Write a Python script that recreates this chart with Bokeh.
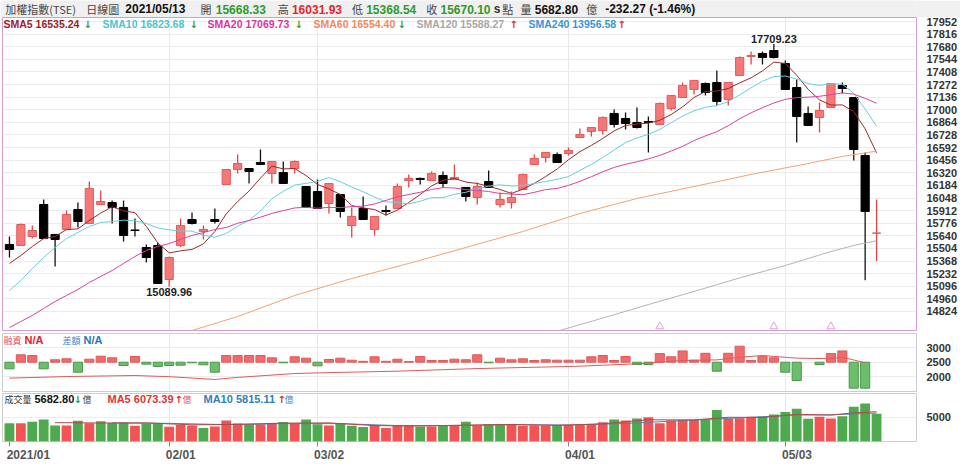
from bokeh.plotting import figure
from bokeh.layouts import column
from bokeh.models import ColumnDataSource, Range1d, FixedTicker, Label, LinearAxis
from bokeh.embed import file_html
from bokeh.resources import INLINE

# ---------------- data ----------------
tick_idx = [0, 14, 27, 49, 68]
tick_labels = ["2021/01", "02/01", "03/02", "04/01", "05/03"]

opens = [15547, 15536, 15633, 15978, 15655, 15709, 15924, 15773, 15978, 15999,
         15946, 15703, 15514, 15536, 15169, 15536, 15816, 15687, 15816, 16194,
         16356, 16366, 16431, 16313, 16323, 16366, 16172, 16118, 15989, 16086,
         15752, 15935, 15709, 15913, 15935, 16237, 16259, 16237, 16291, 16248,
         16162, 16054, 16226, 15978, 15999, 16140, 16410, 16485, 16517, 16528,
         16701, 16766, 16776, 16960, 16906, 16863, 16873, 16841, 17014, 17132,
         17219, 17283, 17294, 17111, 17370, 17574, 17607, 17639, 17499, 17240,
         16960, 16917, 17024, 17262, 17132, 16507, 15668.33]
highs = [15633, 15773, 15752, 16032, 15655, 15913, 15999, 16226, 16129, 16021,
         16021, 15827, 15547, 15568, 15417, 15827, 15892, 15752, 15935, 16356,
         16517, 16366, 16571, 16442, 16442, 16453, 16172, 16248, 16205, 16086,
         15946, 16064, 15849, 15967, 16205, 16302, 16270, 16334, 16334, 16410,
         16162, 16215, 16345, 16108, 16118, 16313, 16517, 16539, 16539, 16593,
         16798, 16809, 16927, 17003, 16970, 17024, 16927, 17078, 17154, 17294,
         17316, 17294, 17423, 17294, 17574, 17628, 17628, 17709.23, 17531, 17326,
         17035, 17078, 17283, 17294, 17132, 16539, 16031.93]
lows = [15406, 15536, 15611, 15611, 15309, 15709, 15730, 15773, 15978, 15773,
        15579, 15633, 15352, 15126, 15089.96, 15520, 15762, 15601, 15773, 16194,
        16313, 16205, 16410, 16205, 16205, 16313, 15946, 15935, 15881, 15838,
        15622, 15816, 15644, 15860, 15935, 16162, 16194, 16237, 16162, 16248,
        16010, 15978, 16162, 15946, 15935, 16140, 16410, 16431, 16431, 16507,
        16701, 16712, 16733, 16809, 16787, 16798, 16539, 16841, 16992, 17132,
        17165, 17154, 17046, 17046, 17370, 17488, 17488, 17553, 17219, 16647,
        16830, 16755, 17024, 17175, 16453, 15159.86, 15368.54]
closes = [15493, 15762, 15698, 15611, 15601, 15870, 15795, 16151, 16010, 15946,
          15644, 15698, 15406, 15126, 15406, 15752, 15773, 15709, 15795, 16356,
          16420, 16334, 16410, 16442, 16205, 16442, 15946, 15935, 16205, 15903,
          15849, 15816, 15849, 15903, 16172, 16259, 16248, 16313, 16205, 16270,
          16064, 16172, 16162, 16032, 16054, 16302, 16474, 16539, 16431, 16561,
          16733, 16809, 16917, 16841, 16852, 16809, 16863, 17068, 17154, 17262,
          17316, 17186, 17089, 17294, 17564, 17585, 17564, 17564, 17219, 16927,
          16830, 16992, 17283, 17229, 16571, 15902.37, 15670.10]

sma5 = [15342, 15428, 15525, 15611, 15633, 15708, 15715, 15806, 15885, 15954,
        15909, 15890, 15741, 15564, 15456, 15478, 15493, 15553, 15687, 15877,
        16010, 16123, 16263, 16392, 16362, 16366, 16289, 16194, 16146, 16086,
        15967, 15941, 15924, 15864, 15918, 16000, 16086, 16179, 16239, 16259,
        16220, 16205, 16174, 16140, 16097, 16144, 16205, 16280, 16360, 16461,
        16548, 16615, 16690, 16772, 16830, 16845, 16856, 16886, 16949, 17031,
        17132, 17197, 17201, 17229, 17290, 17344, 17419, 17514, 17499, 17372,
        17221, 17106, 17050, 17052, 16981, 16794, 16535]
sma10 = [15051, 15158, 15288, 15407, 15514, 15611, 15676, 15741, 15784, 15794,
         15809, 15802, 15773, 15725, 15705, 15693, 15691, 15647, 15625, 15666,
         15744, 15808, 15908, 16040, 16119, 16188, 16206, 16228, 16269, 16224,
         16167, 16115, 16059, 16005, 16002, 15984, 16014, 16052, 16052, 16088,
         16110, 16145, 16177, 16190, 16178, 16182, 16205, 16227, 16250, 16279,
         16346, 16410, 16485, 16566, 16646, 16696, 16735, 16788, 16860, 16931,
         16989, 17027, 17044, 17089, 17160, 17238, 17308, 17358, 17364, 17331,
         17282, 17263, 17282, 17276, 17176, 17007, 16824]
sma20 = [14651, 14716, 14781, 14857, 14932, 14997, 15061, 15137, 15202, 15266,
         15342, 15417, 15482, 15525, 15557, 15601, 15644, 15676, 15708, 15730,
         15776, 15805, 15841, 15882, 15912, 15941, 15948, 15938, 15947, 15945,
         15955, 15961, 15984, 16022, 16061, 16086, 16110, 16140, 16160, 16156,
         16138, 16130, 16118, 16097, 16090, 16083, 16109, 16139, 16151, 16184,
         16228, 16277, 16331, 16378, 16412, 16439, 16470, 16508, 16555, 16605,
         16667, 16718, 16764, 16828, 16903, 16967, 17022, 17073, 17112, 17131,
         17136, 17145, 17163, 17182, 17168, 17123, 17070]
sma60_idx = [15, 16, 20, 25, 30, 35, 40, 45, 50, 55, 60, 65, 70, 73, 76]
sma60 = [14576, 14619, 14770, 14997, 15180, 15342, 15514, 15687, 15881, 16043,
         16172, 16302, 16420, 16496, 16554]
sma120_idx = [47, 52, 56, 60, 64, 68, 72, 74, 76]
sma120 = [14576, 14753, 14899, 15040, 15186, 15320, 15471, 15536, 15588]

margin_chg = [-228, 255, 231, -228, 83, 117, -345, 103, 207, 152,
              -114, 197, -69, -148, -114, -103, -20, -90, -345, 231,
              231, 231, 231, 152, -20, 186, 138, -125, 93, 138,
              69, 30, 186, 30, 103, 20, 197, 58, 58, 103,
              83, 255, -20, 138, 83, 117, 58, 83, 69, 69,
              69, 186, 231, 58, 197, -80, -80, 296, 186, 388,
              69, 307, -310, 307, 552, 58, 207, 152, -345, -631,
              0, -80, 296, 388, -897, -897, 0]
margin_bal_idx = [0, 5, 11, 14, 18, 20, 25, 28, 34, 41, 50, 55, 59, 62, 64, 66, 69, 72, 73, 75]
margin_bal = [1950, 2005, 2040, 2000, 1905, 1975, 2110, 2140, 2190, 2280,
              2362, 2445, 2560, 2580, 2670, 2730, 2640, 2620, 2672, 2480]

volume = [3724, 3724, 4057, 4508, 3273, 3273, 4253, 3724, 4116, 3783,
          3861, 3195, 3665, 3665, 2999, 3391, 3273, 2744, 3077, 4312,
          3665, 3528, 3528, 3783, 3979, 3665, 4508, 3528, 3273, 3665,
          3195, 2940, 3391, 2744, 3273, 3273, 2999, 3077, 3195, 3273,
          4057, 3332, 3528, 3469, 3528, 3195, 3273, 3273, 3391, 3391,
          3391, 3469, 3920, 4508, 4312, 4704, 4959, 3724, 4312, 4449,
          4449, 4449, 6409, 4645, 4763, 5037, 5096, 5488, 6017, 6664,
          4645, 5037, 4704, 5155, 7115, 7781, 5682.80]
vol_ma5_idx = [4, 8, 12, 16, 20, 24, 28, 32, 36, 40, 44, 48, 52, 56, 60, 63, 66, 69, 72, 74, 76]
vol_ma5 = [3850, 3780, 3800, 3400, 3500, 3750, 3800, 3250, 3150, 3350, 3480,
           3300, 3600, 4440, 4400, 4950, 4900, 5550, 5400, 5850, 6073.39]
vol_ma10_idx = [9, 14, 19, 24, 29, 34, 39, 44, 49, 54, 59, 64, 69, 72, 76]
vol_ma10 = [3800, 3700, 3450, 3650, 3650, 3250, 3250, 3420, 3370, 3680, 4270,
            4820, 5400, 5440, 5815.11]

marker_idx = [57, 67, 72]

# ---------------- style ----------------
NUM = "Liberation Sans"
CJK = "Noto Sans CJK TC"
ARW = "DejaVu Sans"
RED = "#e02828"
GREEN = "#2f9a2f"
UP_FILL = "#f47878"
UP_LINE = "#e45a5a"

N = len(closes)
idx = list(range(N))
xr = Range1d(-0.61, 79.5)


def base(height, yr, top, bottom, xloc=None, outline="#cccccc"):
    f = figure(width=960, height=height, x_range=xr, y_range=yr,
               output_backend="svg", toolbar_location=None,
               x_axis_location=xloc, y_axis_location="right",
               min_border_left=2, min_border_right=40,
               min_border_top=top, min_border_bottom=bottom)
    f.outline_line_color = outline
    f.background_fill_color = "white"
    f.border_fill_color = "white"
    ax = f.yaxis[0]
    ax.axis_line_color = None
    ax.major_tick_line_color = None
    ax.minor_tick_line_color = None
    ax.major_label_text_font = NUM
    ax.major_label_text_font_style = "bold"
    ax.major_label_text_font_size = "11px"
    ax.major_label_text_color = "#333333"
    ax.major_label_standoff = 4
    f.ygrid.grid_line_color = "#ececec"
    f.xgrid.grid_line_color = "#e8e8e8"
    f.xgrid.ticker = FixedTicker(ticks=tick_idx[1:])
    return f


def txt(f, x, y, s, color, size="11px", font=NUM, bold=True, align="left", xunits="data"):
    f.add_layout(Label(x=x, y=y, x_units=xunits, text=s, text_color=color, text_font=font,
                       text_font_size=size, text_font_style="bold" if bold else "normal",
                       text_align=align, text_baseline="middle"))


# ---------------- header ----------------
hdr = figure(width=960, height=17, x_range=Range1d(0, 960), y_range=Range1d(0, 17),
             output_backend="svg", toolbar_location=None,
             x_axis_location=None, y_axis_location=None, min_border=0)
hdr.grid.visible = False
hdr.outline_line_color = None
hdr.background_fill_color = "#f0f0f0"
hdr.border_fill_color = "#f0f0f0"
hy = 8.5
txt(hdr, 3, hy, "加權指數(TSE)", "#444444", "11px", CJK, False)
txt(hdr, 88, hy, "日線圖", "#444444", "11px", CJK, False)
txt(hdr, 129, hy, "2021/05/13", "#111111", "12px")
txt(hdr, 208, hy, "開", "#444444", "11px", CJK, False)
txt(hdr, 224, hy, "15668.33", GREEN, "12px")
txt(hdr, 289, hy, "高", "#444444", "11px", CJK, False)
txt(hdr, 304, hy, "16031.93", RED, "12px")
txt(hdr, 367, hy, "低", "#444444", "11px", CJK, False)
txt(hdr, 382, hy, "15368.54", GREEN, "12px")
txt(hdr, 445, hy, "收", "#444444", "11px", CJK, False)
txt(hdr, 460, hy, "15670.10", GREEN, "12px")
txt(hdr, 516, hy, "s", "#333333", "12px")
txt(hdr, 525, hy, "點", "#444444", "11px", CJK, False)
txt(hdr, 544, hy, "量", "#444444", "11px", CJK, False)
txt(hdr, 559, hy, "5682.80", "#111111", "12px")
txt(hdr, 613, hy, "億", "#444444", "11px", CJK, False)
txt(hdr, 633, hy, "-232.27 (-1.46%)", "#111111", "12px")

# ---------------- main price panel ----------------
main_ticks = [14824 + 136 * k for k in range(24)]
p = base(315, Range1d(14619, 17995), 0, 2, outline="#d79ad7")
p.yaxis[0].ticker = FixedTicker(ticks=main_ticks)
p.ygrid.ticker = FixedTicker(ticks=main_ticks)

up = [c > o for o, c in zip(opens, closes)]
src = ColumnDataSource(dict(
    x=idx, o=opens, h=highs, l=lows, c=closes,
    top=[max(o, c) for o, c in zip(opens, closes)],
    bot=[min(o, c) for o, c in zip(opens, closes)],
    fill=[UP_FILL if u else "#000000" for u in up],
    line=[UP_LINE if u else "#000000" for u in up],
    wick=["#e04444" if u else "#111111" for u in up],
))
p.segment(x0="x", y0="l", x1="x", y1="h", line_color="wick", line_width=1.3, source=src)
p.vbar(x="x", width=0.72, top="top", bottom="bot", fill_color="fill",
       line_color="line", line_width=1, source=src)

p.line(idx, sma5, line_color="#9a2a2a", line_width=1)
p.line(idx, sma10, line_color="#66cfdb", line_width=1)
p.line(idx, sma20, line_color="#d8449e", line_width=1)
p.line(sma60_idx, sma60, line_color="#f2a274", line_width=1)
p.line(sma120_idx, sma120, line_color="#b4b4b4", line_width=1)
p.scatter(marker_idx, [14662] * len(marker_idx), marker="triangle",
          size=8, fill_color="white", line_color="#d6a3d6")

ly = 17920
legend = [
    (3, "SMA5 16535.24", "#a0202a", 83, "↓", GREEN),
    (102, "SMA10 16823.68", "#4cc3d0", 189, "↓", GREEN),
    (207, "SMA20 17069.73", "#d6369d", 294, "↓", GREEN),
    (313, "SMA60 16554.40", "#f08a5d", 397, "↓", GREEN),
    (416, "SMA120 15588.27", "#a8a8a8", 509, "↑", RED),
    (528, "SMA240 13956.58", "#3a95d0", 617, "↑", RED),
]
for x0, s, col, xa_, a, acol in legend:
    txt(p, x0 - 2, ly, s, col, "10.5px", NUM, True, "left", "screen")
    txt(p, xa_ - 2, ly, a, acol, "10px", ARW, True, "left", "screen")
txt(p, 67, 17758, "17709.23", "#222222", "11px", NUM, True, "center")
txt(p, 14, 15029, "15089.96", "#222222", "11px", NUM, True, "center")

# ---------------- margin panel ----------------
m = base(60, Range1d(1489, 3490), 1, 1)
m.yaxis[0].ticker = FixedTicker(ticks=[2000, 2500, 3000])
m.ygrid.ticker = FixedTicker(ticks=[2000, 2500, 3000])
mx = [i for i, d in zip(idx, margin_chg) if d != 0]
md = [d for d in margin_chg if d != 0]
msrc = ColumnDataSource(dict(
    x=mx, bottom=[2500] * len(mx), top=[2500 + d for d in md],
    fill=["#f06c6c" if d > 0 else "#6cbd6c" for d in md],
    line=["#e25858" if d > 0 else "#4a9a4a" for d in md],
))
m.vbar(x="x", width=0.8, bottom="bottom", top="top", fill_color="fill",
       line_color="line", source=msrc)
m.line(margin_bal_idx, margin_bal, line_color="#e05a5a", line_width=1)
my = 3249
txt(m, 1, my, "融資", "#e05050", "9px", CJK, False, "left", "screen")
txt(m, 22, my, "N/A", "#dd2222", "11px", NUM, True, "left", "screen")
txt(m, 60, my, "差額", "#3a86c8", "9px", CJK, False, "left", "screen")
txt(m, 81, my, "N/A", "#2a76b8", "11px", NUM, True, "left", "screen")

# ---------------- volume panel ----------------
v = base(72, Range1d(0, 9800), 1, 21, xloc="below")
v.yaxis[0].ticker = FixedTicker(ticks=[5000])
v.ygrid.ticker = FixedTicker(ticks=[5000])
xa = v.xaxis[0]
xa.ticker = FixedTicker(ticks=tick_idx)
xa.axis_line_color = None
xa.major_tick_line_color = "#888888"
xa.major_tick_out = 5
xa.major_tick_in = 0
xa.minor_tick_line_color = None
xa.major_label_text_color = None
xa.major_label_text_font_size = "0px"
xa.major_label_standoff = 0

# label axis on a pixel-based helper range so the labels start at their ticks
v.extra_x_ranges = {"px": Range1d(2, 920)}
label_px = [28, 181, 330, 582, 800]
lax = LinearAxis(x_range_name="px", ticker=FixedTicker(ticks=label_px),
                 major_label_overrides={k: t for k, t in zip(label_px, tick_labels)},
                 axis_line_color=None, major_tick_line_color=None, minor_tick_line_color=None,
                 major_tick_out=0, major_tick_in=0, major_label_standoff=1,
                 major_label_text_font=NUM, major_label_text_font_style="bold",
                 major_label_text_font_size="12px", major_label_text_color="#555555")
v.add_layout(lax, "below")

vcol = ["#4fa94f"] + ["#f25454" if c > pc else "#4fa94f" for pc, c in zip(closes[:-1], closes[1:])]
vsrc = ColumnDataSource(dict(x=idx, top=volume, color=vcol))
v.vbar(x="x", width=0.86, top="top", bottom=0, fill_color="color", line_color=None, source=vsrc)
v.line(vol_ma10_idx, vol_ma10, line_color="#5a7fae", line_width=1)
v.line(vol_ma5_idx, vol_ma5, line_color="#b24848", line_width=1)

vy = 8624
vitems = [
    (2, "成交量", "#333333", CJK, False, "9px"),
    (32, "5682.80", "#111111", NUM, True, "11px"),
    (71, "↓", GREEN, ARW, True, "10px"),
    (80, "億", "#444444", CJK, False, "9px"),
    (105, "MA5 6073.39", "#e03434", NUM, True, "11px"),
    (172, "↑", RED, ARW, True, "10px"),
    (180, "億", "#e06060", CJK, False, "9px"),
    (201, "MA10 5815.11", "#2f7fc0", NUM, True, "11px"),
    (275, "↑", RED, ARW, True, "10px"),
    (282, "億", "#4a8ac8", CJK, False, "9px"),
]
for x0, s, col, font, bold, size in vitems:
    txt(v, x0, vy, s, col, size, font, bold, "left", "screen")

layout = column(hdr, p, m, v, spacing=0)
open("out.html", "w").write(file_html(layout, INLINE))
